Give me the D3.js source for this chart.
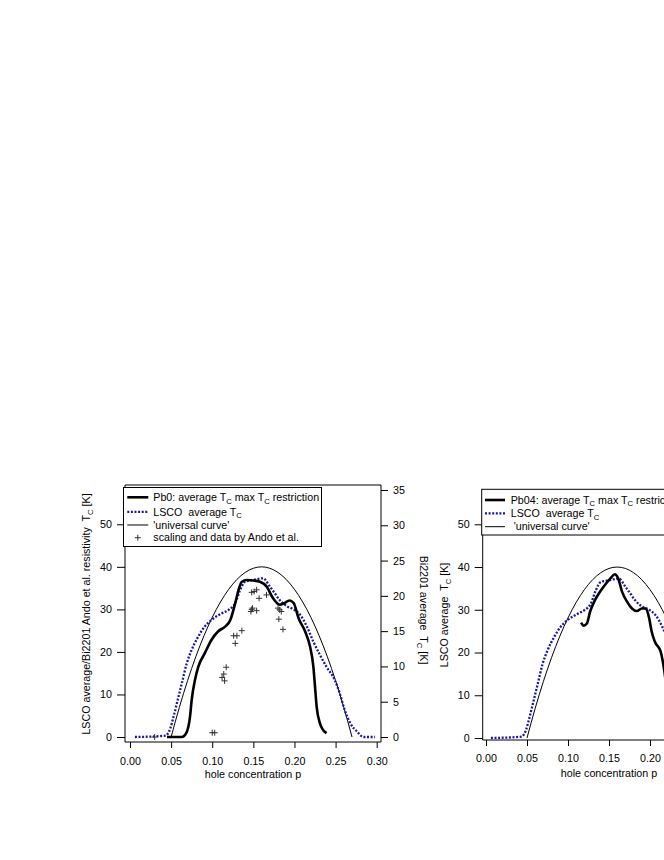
<!DOCTYPE html>
<html><head><meta charset="utf-8">
<script src="https://cdn.jsdelivr.net/npm/d3@7"></script>
<style>
body{margin:0;background:#fff}
text{font-family:"Liberation Sans",Arial,Helvetica,sans-serif;fill:#000}
</style>
</head><body>
<svg id="c" width="664" height="860" xmlns="http://www.w3.org/2000/svg"></svg>
<script>
// ---------------- data ----------------
const xTicks = [0.00, 0.05, 0.10, 0.15, 0.20, 0.25, 0.30];
const xTicksRightPanel = [0.00, 0.05, 0.10, 0.15, 0.20];
const yTicksTc = [0, 10, 20, 30, 40, 50];
const yTicksBi = [0, 5, 10, 15, 20, 25, 30, 35];

// 'universal curve'
const universalP  = [0.05,0.06,0.07,0.08,0.09,0.10,0.11,0.12,0.13,0.14,0.15,0.16,0.17,0.18,0.19,0.20,0.21,0.22,0.23,0.24,0.25,0.26,0.27];
const universalTc = [0,6.96,13.24,18.86,23.81,28.11,31.74,34.71,37.03,38.68,39.67,40,39.67,38.68,37.03,34.71,31.74,28.11,23.81,18.86,13.24,6.96,0];

// LSCO average Tc (blue dotted)
const lscoP  = [0.006,0.043,0.049,0.053,0.057,0.063,0.069,0.075,0.083,0.091,0.099,0.112,0.120,0.128,0.134,0.140,0.150,0.162,0.170,0.176,0.182,0.191,0.199,0.207,0.215,0.223,0.231,0.239,0.249,0.255,0.261,0.268,0.276,0.284,0.298];
const lscoTc = [0,0.3,2,4.8,7.9,12.6,17.3,20.5,23.6,26,27.5,29.1,29.9,31.5,34.6,36.5,36.9,37.3,35.4,33.8,32.2,30.7,30,28.7,26,22.4,19.3,16.5,13.4,10.3,6.4,3.2,1.3,0,0];

// Pb0: average Tc, max Tc restriction (left panel)
const pb0P  = [0.045,0.063,0.067,0.071,0.073,0.075,0.079,0.083,0.091,0.099,0.107,0.116,0.122,0.128,0.132,0.136,0.142,0.150,0.158,0.166,0.174,0.182,0.188,0.194,0.199,0.205,0.213,0.219,0.223,0.225,0.227,0.231,0.235,0.239];
const pb0Tc = [0,0,0.5,2.4,4.8,8.7,13.4,16.5,19.7,22.8,24.8,26,27.5,31.5,34.6,36.5,36.9,36.8,36.5,35.4,32.6,31.1,31.5,32.1,31.5,27.9,24.8,21.2,16.5,11.8,7.1,3.2,1.6,0.9];

// Pb04: average Tc, max Tc restriction (right panel)
const pb04P  = [0.116,0.119,0.123,0.127,0.133,0.139,0.145,0.152,0.157,0.161,0.166,0.172,0.178,0.184,0.190,0.195,0.199,0.202,0.206,0.213,0.217,0.220];
const pb04Tc = [27,26.3,26.8,29.6,32.3,34.2,35.8,37.4,38.3,37.4,34.2,31.9,30.3,29.7,30.3,30.3,28,24.9,22.5,20.2,16.3,12];

// scaling and data by Ando et al. (crosses)
const andoP  = [0.030,0.100,0.103,0.112,0.114,0.115,0.117,0.126,0.130,0.128,0.136,0.147,0.148,0.149,0.154,0.148,0.151,0.154,0.157,0.166,0.180,0.182,0.184,0.181,0.186];
const andoTc = [0,1.0,1.0,14.0,14.8,13.2,16.4,23.8,23.8,22.0,25.0,29.5,30.0,30.3,29.7,34.0,34.2,34.6,32.6,33.4,30.3,29.9,29.5,27.7,25.3];

// ---------------- drawing ----------------
const svg = d3.select("#c");
const FS = 10.7;
const SUB = FS * 0.72;
const SHIFT = FS * 0.25;
const BLUE = "#1616a8";
const zip = (a, b) => a.map((v, i) => [v, b[i]]);

// parts: array of strings; "_C" entries are rendered as subscript C
function richText(sel, parts) {
  let down = false;
  parts.forEach(p => {
    if (p === "_C") {
      sel.append("tspan").attr("font-size", SUB).attr("dy", down ? 0 : SHIFT).text("C");
      down = true;
    } else {
      const ts = sel.append("tspan").text(p);
      if (down) { ts.attr("dy", -SHIFT); down = false; }
    }
  });
}

function panel(cfg) {
  const g = svg.append("g");
  const x = d3.scaleLinear().domain([0, 0.30]).range(cfg.xRange);
  const y = d3.scaleLinear().domain([0, 50]).range(cfg.yRange);
  const line = d3.line().x(d => x(d[0])).y(d => y(d[1])).curve(d3.curveMonotoneX);

  const F = cfg.frame;
  g.append("line").attr("x1", F.left).attr("x2", F.left).attr("y1", F.axisTop).attr("y2", F.bottom).attr("stroke", "#000");
  g.append("line").attr("x1", F.left).attr("x2", F.right).attr("y1", F.bottom).attr("y2", F.bottom).attr("stroke", "#000");
  if (F.top != null) {
    g.append("line").attr("x1", F.left).attr("x2", F.right).attr("y1", F.top).attr("y2", F.top).attr("stroke", "#000");
    g.append("line").attr("x1", F.right).attr("x2", F.right).attr("y1", F.top).attr("y2", F.bottom).attr("stroke", "#000");
  }

  const ax = g.append("g").attr("transform", `translate(0,${F.bottom})`)
    .call(d3.axisBottom(x).tickValues(cfg.xTickValues).tickFormat(d3.format(".2f")).tickSize(6).tickPadding(cfg.xPad));
  const ay = g.append("g").attr("transform", `translate(${F.left},0)`)
    .call(d3.axisLeft(y).tickValues(yTicksTc).tickSize(8).tickPadding(5));
  [ax, ay].forEach(a => {
    a.select(".domain").remove();
    a.selectAll("text").attr("font-size", FS).attr("font-family", null).attr("fill", "#000");
    a.selectAll("line").attr("stroke", "#000");
  });

  if (cfg.rightAxis) {
    const yB = d3.scaleLinear().domain([0, 35]).range(cfg.biRange);
    const ar = g.append("g").attr("transform", `translate(${F.right},0)`)
      .call(d3.axisRight(yB).tickValues(yTicksBi).tickSize(7).tickPadding(5));
    ar.select(".domain").remove();
    ar.selectAll("text").attr("font-size", FS).attr("font-family", null).attr("fill", "#000");
    ar.selectAll("line").attr("stroke", "#000");
  }

  g.append("text").attr("x", cfg.xTitleX).attr("y", cfg.xTitleY).attr("text-anchor", "middle")
    .attr("font-size", FS).text("hole concentration p");

  g.append("path").datum(zip(universalP, universalTc)).attr("d", line)
    .attr("fill", "none").attr("stroke", "#000").attr("stroke-width", 1);
  g.append("path").datum(zip(lscoP, lscoTc)).attr("d", line)
    .attr("fill", "none").attr("stroke", BLUE).attr("stroke-width", 2.3).attr("stroke-dasharray", "2,1.6");
  g.append("path").datum(zip(cfg.pbP, cfg.pbTc)).attr("d", line)
    .attr("fill", "none").attr("stroke", "#000").attr("stroke-width", 2.6).attr("stroke-linejoin", "round");

  if (cfg.crosses) {
    g.selectAll("path.cross").data(zip(andoP, andoTc)).join("path").attr("class", "cross")
      .attr("transform", d => `translate(${x(d[0])},${y(d[1])})`)
      .attr("d", "M-3,0H3M0,-3V3").attr("stroke", "#333").attr("stroke-width", 1).attr("fill", "none");
  }
}

panel({
  xRange: [130, 376.7], yRange: [737, 524.3], biRange: [737, 490],
  frame: {left: 125, right: 381, top: 485, axisTop: 485, bottom: 742},
  xTickValues: xTicks, xPad: 9, xTitleX: 253, xTitleY: 778,
  pbP: pb0P, pbTc: pb0Tc, crosses: true, rightAxis: true
});

panel({
  xRange: [486, 732], yRange: [738, 524.3],
  frame: {left: 482.7, right: 739, top: null, axisTop: 535, bottom: 740},
  xTickValues: xTicksRightPanel, xPad: 8, xTitleX: 609, xTitleY: 777,
  pbP: pb04P, pbTc: pb04Tc, crosses: false, rightAxis: false
});

// rotated axis titles
const t1 = svg.append("text").attr("transform", "translate(90,614) rotate(-90)")
  .attr("text-anchor", "middle").attr("font-size", FS).style("white-space", "pre");
richText(t1, ["LSCO average/Bi2201 Ando et al. resistivity  T", "_C", " [K]"]);

const t2 = svg.append("text").attr("transform", "translate(419.5,610) rotate(90)")
  .attr("text-anchor", "middle").attr("font-size", FS).style("white-space", "pre");
richText(t2, ["Bi2201 average  T", "_C", " [K]"]);

const t3 = svg.append("text").attr("transform", "translate(448,615) rotate(-90)")
  .attr("text-anchor", "middle").attr("font-size", FS).style("white-space", "pre");
richText(t3, ["LSCO average  T", "_C", " [K]"]);

// legends
function legend(box, rows, symX, textX) {
  const g = svg.append("g");
  g.append("rect").attr("x", box[0]).attr("y", box[1]).attr("width", box[2]).attr("height", box[3])
    .attr("fill", "#fff").attr("stroke", "#000").attr("stroke-width", 1);
  rows.forEach(r => {
    if (r.kind === "thick") {
      g.append("line").attr("x1", symX[0]).attr("x2", symX[1]).attr("y1", r.y).attr("y2", r.y).attr("stroke", "#000").attr("stroke-width", 2.6);
    } else if (r.kind === "dot") {
      g.append("line").attr("x1", symX[0]).attr("x2", symX[1]).attr("y1", r.y).attr("y2", r.y).attr("stroke", BLUE).attr("stroke-width", 2.3).attr("stroke-dasharray", "2,1.6");
    } else if (r.kind === "thin") {
      g.append("line").attr("x1", symX[0]).attr("x2", symX[1]).attr("y1", r.y).attr("y2", r.y).attr("stroke", "#000").attr("stroke-width", 1);
    } else if (r.kind === "cross") {
      const cx = (symX[0] + symX[1]) / 2;
      g.append("path").attr("transform", `translate(${cx},${r.y})`).attr("d", "M-3,0H3M0,-3V3").attr("stroke", "#333").attr("fill", "none");
    }
    const t = g.append("text").attr("x", textX).attr("y", r.y + 3.7).attr("font-size", FS).style("white-space", "pre");
    richText(t, r.parts);
  });
}

legend([123.5, 487.5, 198, 59], [
  {kind: "thick", y: 497.3, parts: ["Pb0: average T", "_C", " max T", "_C", " restriction"]},
  {kind: "dot", y: 511.8, parts: ["LSCO  average T", "_C"]},
  {kind: "thin", y: 525, parts: ["'universal curve'"]},
  {kind: "cross", y: 537.7, parts: ["scaling and data by Ando et al."]}
], [127.3, 148.3], 153.3);

legend([481.7, 489.3, 260, 45.7], [
  {kind: "thick", y: 500, parts: ["Pb04: average T", "_C", " max T", "_C", " restriction"]},
  {kind: "dot", y: 513.3, parts: ["LSCO  average T", "_C"]},
  {kind: "thin", y: 526.7, parts: [" 'universal curve'"]}
], [485, 505], 510.7);
</script>
</body></html>
